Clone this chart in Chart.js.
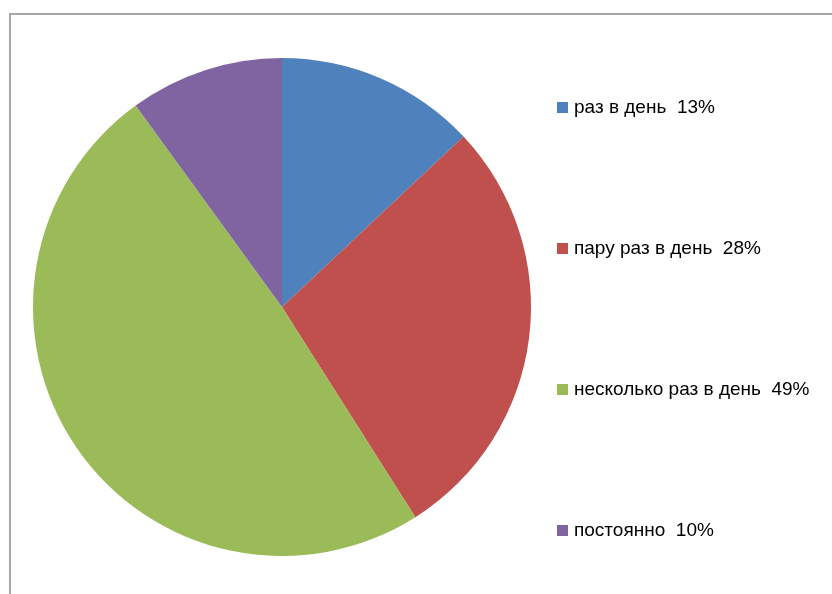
<!DOCTYPE html>
<html lang="ru">
<head>
  <meta charset="UTF-8">
  <title>Pie</title>
  <script src="https://cdn.jsdelivr.net/npm/chart.js"></script>
  <style>
    body { margin: 0; background: #fff; }
    .wrap { width: 832px; height: 594px; position: relative; }
  </style>
</head>
<body>
  <div class="wrap"><canvas id="pie" width="832" height="594"></canvas></div>

  <script>
  const categories = ["раз в день", "пару раз в день", "несколько раз в день", "постоянно"];
  const values = [13, 28, 49, 10];
  const colors = ["#4F81BD", "#C0504D", "#9BBB59", "#8064A2"];
  const legendY = [108, 249, 390, 531];

  // frame lines + legend on the right
  const extras = {
    id: "extras",
    beforeDraw(chart) {
      const c = chart.ctx;
      c.save();
      c.strokeStyle = "#a6a6a6";
      c.lineWidth = 2;
      c.beginPath();
      c.moveTo(10, 594);
      c.lineTo(10, 14);
      c.lineTo(832, 14);
      c.stroke();
      c.restore();
    },
    afterDraw(chart) {
      const c = chart.ctx;
      c.save();
      c.font = "19px 'Liberation Sans', sans-serif";
      c.textBaseline = "middle";
      chart.data.labels.forEach((lab, i) => {
        const y = legendY[i];
        c.fillStyle = colors[i];
        c.fillRect(557, y - 6, 11, 11);
        c.fillStyle = "#000";
        c.fillText(lab + "  " + chart.data.datasets[0].data[i] + "%", 574, y);
      });
      c.restore();
    }
  };

  new Chart(document.getElementById("pie"), {
    type: "pie",
    data: {
      labels: categories,
      datasets: [{ data: values, backgroundColor: colors, borderWidth: 0 }]
    },
    options: {
      responsive: false,
      animation: false,
      layout: { padding: { left: 33, top: 58, right: 301, bottom: 38 } },
      plugins: { legend: { display: false }, tooltip: { enabled: false } }
    },
    plugins: [extras]
  });
  </script>
</body>
</html>
